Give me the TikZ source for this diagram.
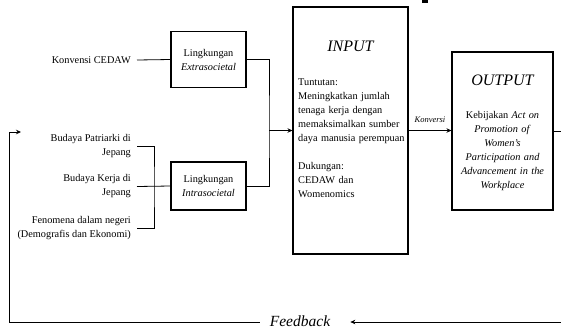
\documentclass[tikz,border=0pt]{standalone}
\usepackage{fontspec}
\setmainfont{Liberation Serif}
\usetikzlibrary{arrows.meta}
\begin{document}
\begin{tikzpicture}[x=1pt,y=-1pt,
  txt/.style={font=\fontsize{10.3}{14}\selectfont, inner sep=0pt},
  box/.style={draw, line width=1.1pt, inner sep=0pt, font=\fontsize{10.3}{14}\selectfont, align=center},
  ttl/.style={font=\fontsize{16}{18}\selectfont\itshape, inner sep=0pt},
  conn/.style={line width=0.8pt},
  arr/.style={conn,-{Stealth[length=5pt,width=4.5pt]}}]
\path[use as bounding box] (0,0) rectangle (561,330);
\clip (0,0) rectangle (561,330);

% boxes
\node[box, minimum width=75pt, minimum height=55.5pt] (extra) at (208.5,59.5) {Lingkungan\\\textit{Extrasocietal}};
\node[box, minimum width=75pt, minimum height=48pt] (intra) at (208.5,186) {Lingkungan\\\textit{Intrasocietal}};
\node[box, minimum width=115pt, minimum height=247pt] (input) at (350.5,130.5) {};
\node[box, minimum width=101pt, minimum height=158pt] (output) at (502.5,131) {};

% box contents
\node[ttl] (inT) at (350.5,46) {INPUT};
\node[txt, anchor=north west, align=left, text width=106pt] (inB) at (298,78.5)
  {Tuntutan:\\
   \makebox[106pt][s]{Meningkatkan jumlah}\\
   \makebox[106pt][s]{tenaga kerja dengan}\\
   \makebox[106pt][s]{memaksimalkan sumber}\\
   \mbox{daya manusia perempuan}\\[14pt]
   Dukungan:\\
   CEDAW dan\\
   Womenomics};
\node[ttl] (outT) at (502.5,80) {OUTPUT};
\node[txt, align=center, text width=98pt] (outB) at (502.5,151)
  {Kebijakan \textit{Act on}\\\textit{Promotion of}\\\textit{Women’s}\\\textit{Participation and}\\\textit{Advancement in the}\\\textit{Workplace}};

% left texts
\node[txt, align=right, anchor=east] (cedaw) at (131,60) {Konvensi CEDAW};
\node[txt, align=right, anchor=east] (patr) at (131,146) {Budaya Patriarki di\\Jepang};
\node[txt, align=right, anchor=east] (kerja) at (131,186.5) {Budaya Kerja di\\Jepang};
\node[txt, align=right, anchor=east] (feno) at (131,228.5) {Fenomena dalam negeri\\(Demografis dan Ekonomi)};

\node[font=\fontsize{8.5}{10}\selectfont\itshape, inner sep=0pt] (konv) at (430,120) {Konversi};
\node[font=\fontsize{15.5}{17}\selectfont\itshape, inner sep=0pt] (fb) at (300,321) {Feedback};

% connectors
\coordinate (brk) at (154,186.5);
\coordinate (jn) at (269,130.5);
\coordinate (rc) at (566,322);
\coordinate (lc) at (9,132);
\coordinate (tip) at (21,132);
\coordinate (fbr) at ([xshift=20pt]fb.east);
\coordinate (fbl) at ([xshift=-10pt]fb.west);

\draw[conn] ([xshift=6pt]cedaw.east) -- (extra.west);
\draw[conn] ([xshift=6pt]patr.east) -| (brk) |- ([xshift=6pt]feno.east);
\draw[conn] ([xshift=6pt]kerja.east) -- (intra.west);
\draw[conn] (extra.east) -| (jn) |- (intra.east);
\draw[arr] (jn) -- (jn -| input.west);
\draw[arr] (input.east) -- (input.east -| output.west);
\draw[arr] (output.east) -| (rc) -- (rc -| fbr);
\draw[arr] (rc -| fbl) -| (lc) -- (tip);

% cut-off fragment at the top
\fill (422,0) rectangle (428,2.5);
\end{tikzpicture}
\end{document}
